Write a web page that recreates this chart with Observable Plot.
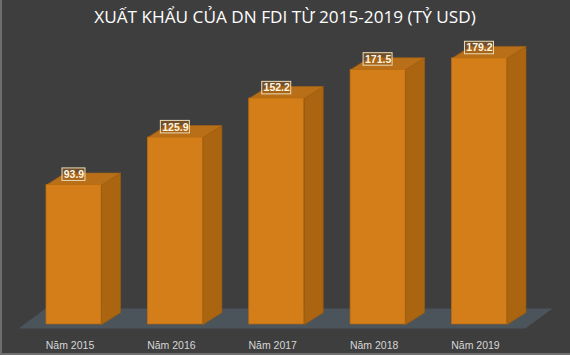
<!DOCTYPE html>
<html>
<head>
<meta charset="utf-8">
<script src="https://cdn.jsdelivr.net/npm/d3@7"></script>
<script src="https://cdn.jsdelivr.net/npm/@observablehq/plot@0.6"></script>
<style>
  html, body { margin: 0; padding: 0; background: #3e3e3e; }
  #wrap { position: relative; width: 570px; height: 355px; overflow: hidden; background: #3e3e3e; }
  #title { height: 34px; line-height: 34px; text-align: center; color: #ffffff;
           font-family: "Open Sans", "Noto Sans", sans-serif; font-size: 17.2px; white-space: nowrap; }
  #frame { position: absolute; left: 0; top: 0; width: 570px; height: 355px; pointer-events: none;
           box-shadow: inset 2px -2px 0 #6e6e6e; }
  svg { display: block; }
</style>
</head>
<body>
<div id="wrap">
  <div id="title">XUẤT KHẨU CỦA DN FDI TỪ 2015-2019 (TỶ USD)</div>
  <div id="chart"></div>
  <div id="frame"></div>
</div>
<script>
const years = [2015, 2016, 2017, 2018, 2019];
const categories = ["Năm 2015", "Năm 2016", "Năm 2017", "Năm 2018", "Năm 2019"];
const values = [93.9, 125.9, 152.2, 171.5, 179.2];

const data = years.map((year, i) => ({year, category: categories[i], value: values[i], label: values[i].toFixed(1)}));

// geometry constants (in data units)
const HW = 0.2714;      // half width of bar front
const DDX = 0.1874;     // depth offset x
const DDY = 8.1;        // depth offset y
const PXX = 101.375;    // px per year
const PXY = 1.485;      // px per unit

const sideFaces = data.flatMap(d => [
  {id: d.year, x: d.year + HW, y: 0},
  {id: d.year, x: d.year + HW, y: d.value},
  {id: d.year, x: d.year + HW + DDX, y: d.value + DDY},
  {id: d.year, x: d.year + HW + DDX, y: DDY}
]);
const topFaces = data.flatMap(d => [
  {id: d.year, x: d.year - HW, y: d.value},
  {id: d.year, x: d.year + HW, y: d.value},
  {id: d.year, x: d.year + HW + DDX, y: d.value + DDY},
  {id: d.year, x: d.year - HW + DDX, y: d.value + DDY}
]);
const x0 = years[0], x1 = years[years.length - 1];
const floorPoly = [
  {x: x0 - 0.547, y: -2.7},
  {x: x1 + 0.453, y: -2.7},
  {x: x1 + 0.72, y: 10.8},
  {x: x0 - 0.28, y: 10.8}
];

const LBL_OFF = 7;          // label center above front top (units)
const LBL_H = 12.5 / PXY;   // label box height
const boxW = d => (6 * d.label.length - 1) / PXX;

const chart = Plot.plot({
  width: 570,
  height: 321,
  margin: 0,
  style: {background: "transparent", overflow: "visible"},
  x: {domain: [2014.275, 2019.898], axis: null},
  y: {domain: [-20.9, 195.3], axis: null},
  marks: [
    Plot.line(floorPoly, {x: "x", y: "y", curve: "linear-closed", fill: "#4b535b", stroke: "none"}),
    Plot.line(sideFaces, {x: "x", y: "y", z: "id", curve: "linear-closed", fill: "#ab640f", stroke: "#9e5c0e", strokeWidth: 0.6}),
    Plot.line(topFaces, {x: "x", y: "y", z: "id", curve: "linear-closed", fill: "#b86f18", stroke: "#a5620f", strokeWidth: 0.6}),
    Plot.rect(data, {x1: d => d.year - HW, x2: d => d.year + HW, y1: 0, y2: "value", fill: "#d47e19", stroke: "#b86b12", strokeWidth: 0.7}),
    Plot.rect(data, {
      x1: d => d.year - boxW(d) / 2, x2: d => d.year + boxW(d) / 2,
      y1: d => d.value + LBL_OFF - LBL_H / 2, y2: d => d.value + LBL_OFF + LBL_H / 2,
      fill: "#9a5c1c", fillOpacity: 0.55, stroke: "#eadcb8", strokeWidth: 1
    }),
    Plot.text(data, {x: "year", y: d => d.value + LBL_OFF, text: "label", fill: "#fff6e2",
      fontSize: 10.5, fontWeight: "bold", fontFamily: "Liberation Sans, Arial, sans-serif"}),
    Plot.text(data, {x: "year", y: -14.1, text: "category", dx: -4, fill: "#d6d6d6",
      fontSize: 10.5, fontFamily: "Liberation Sans, Arial, sans-serif"})
  ]
});
document.getElementById("chart").appendChild(chart);
</script>
</body>
</html>
